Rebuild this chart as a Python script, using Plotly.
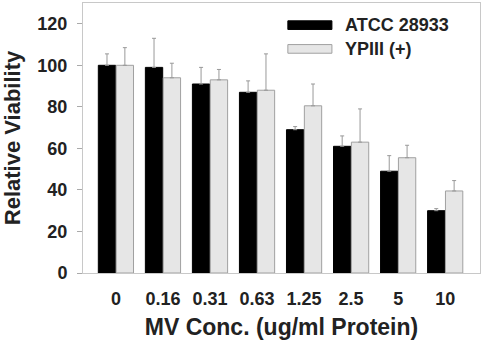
import plotly.graph_objects as go

categories = ["0", "0.16", "0.31", "0.63", "1.25", "2.5", "5", "10"]
atcc = [100, 99, 91, 87, 69, 61, 49, 30]
atcc_err = [5.5, 14, 8, 5.5, 1.5, 5, 7.5, 1]
ypiii = [100, 94, 93, 88, 80.5, 63, 55.5, 39.5]
ypiii_err = [8.5, 7, 5, 17.5, 10.5, 16, 6, 5]
series_names = ["ATCC 28933", "YPIII (+)"]

FONT = "Liberation Sans"
TXT = "#222222"

fig = go.Figure()
fig.add_trace(go.Bar(
    x=list(range(len(categories))), y=atcc, name=series_names[0],
    marker=dict(color="#000000", line=dict(color="#000000", width=1)),
    error_y=dict(type="data", array=atcc_err, symmetric=False, arrayminus=[0]*len(atcc),
                 color="#999999", thickness=1, width=2),
))
fig.add_trace(go.Bar(
    x=list(range(len(categories))), y=ypiii, name=series_names[1],
    marker=dict(color="#e6e6e6", line=dict(color="#a0a0a0", width=1)),
    error_y=dict(type="data", array=ypiii_err, symmetric=False, arrayminus=[0]*len(ypiii),
                 color="#999999", thickness=1, width=2),
))

fig.update_layout(
    width=485, height=344,
    margin=dict(l=83, r=5, t=3, b=71),
    paper_bgcolor="white", plot_bgcolor="white",
    barmode="group", bargap=0.24, bargroupgap=0.03,
    showlegend=False,
    font=dict(family=FONT, color=TXT),
)
fig.update_xaxes(
    range=[-0.70, 7.74],
    tickmode="array", tickvals=list(range(len(categories))),
    ticktext=["<b>" + c + "</b>" for c in categories],
    tickfont=dict(size=18, family=FONT, color=TXT),
    showline=True, linecolor="#c8c8c8", linewidth=1, mirror=True,
    ticks="", showgrid=False, zeroline=False,
    ticklabelstandoff=9,
    title=dict(text="<b>MV Conc. (ug/ml Protein)</b>", font=dict(size=23, family=FONT, color=TXT), standoff=11),
)
fig.update_yaxes(
    range=[0, 130],
    tickmode="array", tickvals=[0, 20, 40, 60, 80, 100, 120],
    ticktext=["<b>%d</b>" % v for v in [0, 20, 40, 60, 80, 100, 120]],
    tickfont=dict(size=18, family=FONT, color=TXT),
    showline=True, linecolor="#c8c8c8", linewidth=1, mirror=True,
    ticks="outside", ticklen=5, tickcolor="#aaaaaa",
    ticklabelstandoff=6,
    showgrid=False, zeroline=False,
    title=dict(text="<b>Relative Viability</b>", font=dict(size=22, family=FONT, color=TXT), standoff=12),
)

# manual legend with wide swatches
legend_items = [(series_names[0], "#000000", "#000000", 0.918),
                (series_names[1], "#e6e6e6", "#a0a0a0", 0.830)]
for name, fill, line, yc in legend_items:
    fig.add_shape(type="rect", xref="paper", yref="paper",
                  x0=0.516, x1=0.627, y0=yc - 0.016, y1=yc + 0.016,
                  fillcolor=fill, line=dict(color=line, width=1))
    fig.add_annotation(xref="paper", yref="paper", x=0.655, y=yc, text="<b>" + name + "</b>",
                       showarrow=False, xanchor="left", yanchor="middle",
                       font=dict(size=18, family=FONT, color=TXT))

fig.write_html("out.html")
